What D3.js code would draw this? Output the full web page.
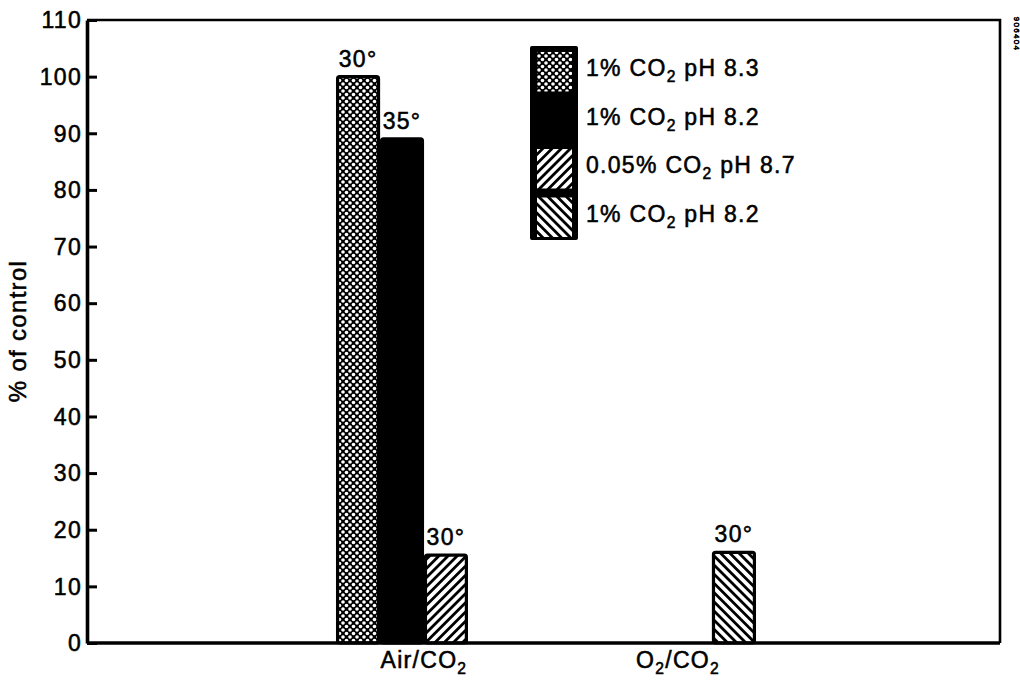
<!DOCTYPE html>
<html>
<head>
<meta charset="utf-8">
<script src="https://cdn.jsdelivr.net/npm/d3@7"></script>
<style>
  body { margin: 0; background: #fff; }
  text { font-family: "Liberation Sans", Arial, Helvetica, sans-serif; fill: #000; stroke: #000; stroke-width: 0.55px; letter-spacing: 1.3px; }
</style>
</head>
<body>
<svg id="chart" width="1020" height="685"></svg>
<script>

// categories on the x axis ("_2" marks a subscript 2)
var categories = ['Air/CO_2', 'O_2/CO_2']

// series (same order as the legend)
var seriesKeys = ['s1', 's2', 's3', 's4']
var seriesLabels = ['1% CO_2 pH 8.3', '1% CO_2 pH 8.2', '0.05% CO_2 pH 8.7', '1% CO_2 pH 8.2']

// values per category, null = no bar
var airValues = [100, 89, 15.5, null]
var o2Values = [null, null, null, 16]

// temperature written over each bar
var airTemps = ['30°', '35°', '30°', null]
var o2Temps = [null, null, null, '30°']

var yTicks = [0, 10, 20, 30, 40, 50, 60, 70, 80, 90, 100, 110]

var data = []
categories.forEach(function (c, ci) {
    var vals = ci === 0 ? airValues : o2Values
    var temps = ci === 0 ? airTemps : o2Temps
    seriesKeys.forEach(function (k, ki) {
        if (vals[ki] != null) data.push({ cat: c, key: k, value: vals[ki], temp: temps[ki] })
    })
})

var svg = d3.select('#chart'),
    frame = { left: 87, right: 1000, top: 20, bottom: 643 }

var defs = svg.append('defs')

// crosshatch: white dots on black
var dots = defs.append('pattern')
    .attr('id', 'p-s1')
    .attr('patternUnits', 'userSpaceOnUse')
    .attr('width', 7).attr('height', 7)
dots.append('rect').attr('width', 7).attr('height', 7).attr('fill', '#000')
    ;[[0, 0], [7, 0], [0, 7], [7, 7], [3.5, 3.5]].forEach(function (p) {
        dots.append('circle').attr('cx', p[0]).attr('cy', p[1]).attr('r', 1.8).attr('fill', '#fff')
    })

// diagonal hatches
function hatch(id, angle) {
    var p = defs.append('pattern')
        .attr('id', id)
        .attr('patternUnits', 'userSpaceOnUse')
        .attr('width', 6.5).attr('height', 6.5)
        .attr('patternTransform', 'rotate(' + angle + ')')
    p.append('rect').attr('width', 6.5).attr('height', 6.5).attr('fill', '#fff')
    p.append('rect').attr('width', 2.8).attr('height', 6.5).attr('fill', '#000')
}
hatch('p-s3', 45)
hatch('p-s4', -45)

var fills = { s1: 'url(#p-s1)', s2: '#000', s3: 'url(#p-s3)', s4: 'url(#p-s4)' }

// text with "_2" turned into subscript
function richText(sel, str, size) {
    var parts = str.split('_2')
    parts.forEach(function (part, i) {
        sel.append('tspan').text(part).attr('dy', i === 0 ? null : -size * 0.25)
            .attr('font-size', size)
        if (i < parts.length - 1) {
            sel.append('tspan').text('2').attr('dy', size * 0.25).attr('font-size', size * 0.68)
        }
    })
}

var x0 = d3.scaleBand()
    .domain(categories)
    .range([92, frame.right])
    .paddingInner(0.28)
    .paddingOuter(1.0)

var x1 = d3.scaleBand()
    .domain(seriesKeys)
    .range([0, x0.bandwidth()])
    .padding(0)

var y = d3.scaleLinear()
    .domain([0, 110])
    .range([frame.bottom, frame.top])

// bars
svg.append('g').selectAll('rect')
    .data(data)
    .enter()
    .append('rect')
    .attr('x', d => x0(d.cat) + x1(d.key) + 1.5)
    .attr('y', d => y(d.value))
    .attr('width', x1.bandwidth() - 3)
    .attr('height', d => y(0) - y(d.value))
    .attr('rx', 2)
    .attr('fill', d => fills[d.key])
    .attr('stroke', '#000')
    .attr('stroke-width', 3.2)

svg.append('g').selectAll('text')
    .data(data.filter(d => d.temp))
    .enter()
    .append('text')
    .attr('x', d => x0(d.cat) + x1(d.key) + x1.bandwidth() / 2)
    .attr('y', d => y(d.value) - 10)
    .attr('text-anchor', 'middle')
    .attr('font-size', 23)
    .text(d => d.temp)

// frame (top and right edges)
svg.append('path')
    .attr('d', 'M' + frame.left + ',' + frame.top + 'H' + frame.right + 'V' + frame.bottom)
    .attr('fill', 'none').attr('stroke', '#000').attr('stroke-width', 2.6)

// y axis, ticks pointing in
var yAxis = svg.append('g')
    .attr('transform', 'translate(' + frame.left + ',0)')
    .call(d3.axisRight(y).tickValues(yTicks).tickSize(10).tickSizeOuter(0).tickFormat(''))
yAxis.select('.domain').attr('stroke-width', 3.6)
yAxis.selectAll('.tick line').attr('stroke-width', 3)

svg.append('g').selectAll('text')
    .data(yTicks)
    .enter()
    .append('text')
    .attr('x', frame.left - 5)
    .attr('y', d => y(d))
    .attr('dy', '0.36em')
    .attr('text-anchor', 'end')
    .attr('font-size', 23)
    .text(d => d)

// x axis line
svg.append('line')
    .attr('x1', frame.left).attr('x2', frame.right)
    .attr('y1', y(0)).attr('y2', y(0))
    .attr('stroke', '#000').attr('stroke-width', 3.6)

// category labels; the second one sits a little right of its group centre
var labelShift = [0, 10]
categories.forEach(function (c, i) {
    var t = svg.append('text')
        .attr('x', x0(c) + x0.bandwidth() / 2 + labelShift[i])
        .attr('y', 668)
        .attr('text-anchor', 'middle')
    richText(t, c, 23)
})

svg.append('text')
    .attr('transform', 'translate(26,331) rotate(-90)')
    .attr('text-anchor', 'middle')
    .attr('font-size', 24)
    .text('% of control')

// legend: one black box holding the swatches
var lg = { x: 530, y: 46, w: 48, row: 48.5 }
var legend = svg.append('g').attr('class', 'legend')

legend.append('rect')
    .attr('x', lg.x).attr('y', lg.y)
    .attr('width', lg.w).attr('height', lg.row * seriesKeys.length)
    .attr('rx', 2)
    .attr('fill', '#000')

legend.selectAll('rect.sw')
    .data(seriesKeys)
    .enter()
    .append('rect')
    .attr('class', 'sw')
    .attr('x', lg.x + 7)
    .attr('y', (d, i) => lg.y + i * lg.row + 6)
    .attr('width', lg.w - 13)
    .attr('height', lg.row - 9)
    .attr('fill', d => fills[d])

seriesLabels.forEach(function (s, i) {
    var t = legend.append('text')
        .attr('x', lg.x + lg.w + 8)
        .attr('y', lg.y + i * lg.row + lg.row / 2 + 6)
    richText(t, s, 23)
})

// figure number at the edge, mostly cut off
svg.append('text')
    .attr('transform', 'translate(1014,34) rotate(90)')
    .attr('font-size', 8)
    .attr('stroke-width', 0)
    .attr('letter-spacing', 0)
    .attr('text-anchor', 'middle')
    .text('906404')

</script>
</body>
</html>
